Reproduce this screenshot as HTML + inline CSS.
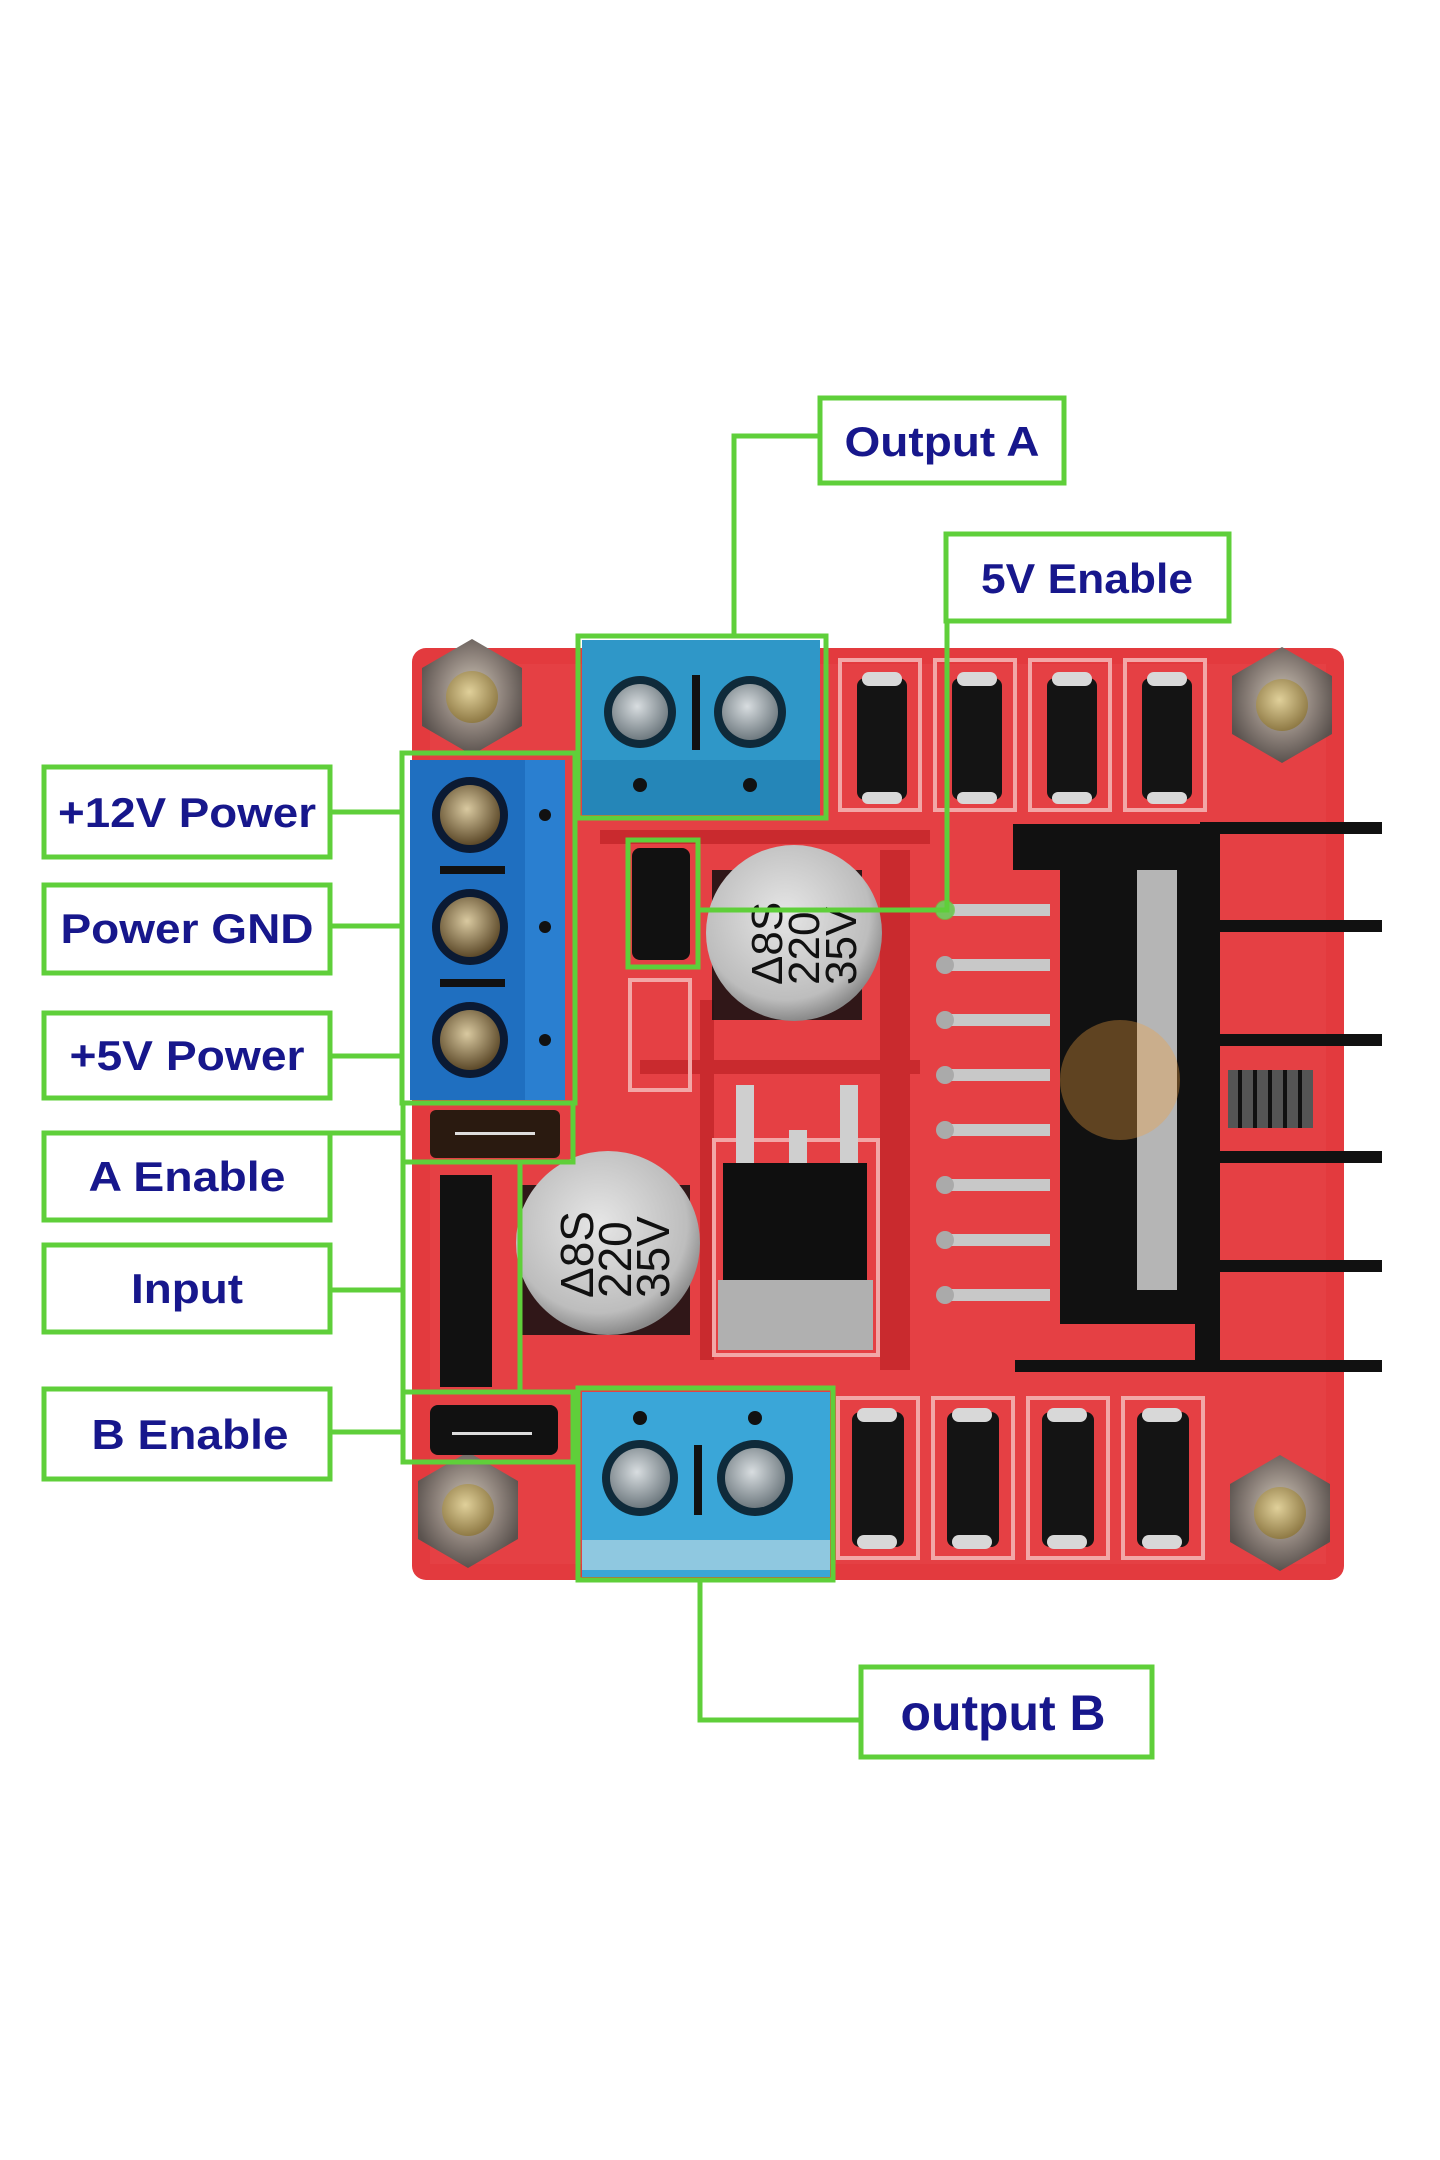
<!DOCTYPE html>
<html><head><meta charset="utf-8"><style>
html,body{margin:0;padding:0;background:#fff;}
svg{display:block}
text{font-family:"Liberation Sans",Arial,sans-serif;font-weight:bold;fill:#17178c;}
</style></head><body>
<svg width="1440" height="2160" viewBox="0 0 1440 2160" xmlns="http://www.w3.org/2000/svg">
<defs>
<radialGradient id="nut" cx="50%" cy="45%" r="55%"><stop offset="0" stop-color="#cfc6b8"/><stop offset="0.6" stop-color="#8a7f78"/><stop offset="1" stop-color="#5a524e"/></radialGradient>
<radialGradient id="gold" cx="45%" cy="40%" r="60%"><stop offset="0" stop-color="#e0d09a"/><stop offset="1" stop-color="#8f7a45"/></radialGradient>
<radialGradient id="cap" cx="45%" cy="40%" r="60%"><stop offset="0" stop-color="#e6e6e6"/><stop offset="0.8" stop-color="#bdbdbd"/><stop offset="1" stop-color="#8a8a8a"/></radialGradient>
<radialGradient id="screw" cx="45%" cy="40%" r="60%"><stop offset="0" stop-color="#d8dde0"/><stop offset="1" stop-color="#6f7a80"/></radialGradient>
<radialGradient id="bscrew" cx="45%" cy="40%" r="60%"><stop offset="0" stop-color="#d9c9a0"/><stop offset="1" stop-color="#5d4a2a"/></radialGradient>
</defs>
<rect width="1440" height="2160" fill="#fff"/>
<rect x="412" y="648" width="932" height="932" rx="14" fill="#e33a3e"/>
<rect x="430" y="664" width="896" height="900" fill="#e8454a" opacity="0.5"/>
<g fill="#c92a2e">
<rect x="600" y="830" width="330" height="14"/>
<rect x="700" y="1000" width="14" height="360"/>
<rect x="880" y="850" width="30" height="520"/>
<rect x="640" y="1060" width="280" height="14"/>
</g>
<g fill="none" stroke="#f2a7a7" stroke-width="4">
<rect x="840" y="660" width="80" height="150"/><rect x="935" y="660" width="80" height="150"/>
<rect x="1030" y="660" width="80" height="150"/><rect x="1125" y="660" width="80" height="150"/>
<rect x="838" y="1398" width="80" height="160"/><rect x="933" y="1398" width="80" height="160"/>
<rect x="1028" y="1398" width="80" height="160"/><rect x="1123" y="1398" width="80" height="160"/>
<rect x="714" y="1140" width="164" height="215"/>
<rect x="630" y="980" width="60" height="110"/>
</g>
<g>
<polygon points="472,639 522,668 522,726 472,755 422,726 422,668" fill="url(#nut)"/>
<circle cx="472" cy="697" r="26" fill="url(#gold)"/>
<polygon points="1282,647 1332,676 1332,734 1282,763 1232,734 1232,676" fill="url(#nut)"/>
<circle cx="1282" cy="705" r="26" fill="url(#gold)"/>
<polygon points="468,1452 518,1481 518,1539 468,1568 418,1539 418,1481" fill="url(#nut)"/>
<circle cx="468" cy="1510" r="26" fill="url(#gold)"/>
<polygon points="1280,1455 1330,1484 1330,1542 1280,1571 1230,1542 1230,1484" fill="url(#nut)"/>
<circle cx="1280" cy="1513" r="26" fill="url(#gold)"/>
</g>
<g fill="#141414">
<rect x="857" y="678" width="50" height="122" rx="8"/><rect x="952" y="678" width="50" height="122" rx="8"/>
<rect x="1047" y="678" width="50" height="122" rx="8"/><rect x="1142" y="678" width="50" height="122" rx="8"/>
<rect x="852" y="1412" width="52" height="135" rx="8"/><rect x="947" y="1412" width="52" height="135" rx="8"/>
<rect x="1042" y="1412" width="52" height="135" rx="8"/><rect x="1137" y="1412" width="52" height="135" rx="8"/>
</g>
<g fill="#d8d8d8">
<rect x="862" y="672" width="40" height="14" rx="7"/><rect x="957" y="672" width="40" height="14" rx="7"/>
<rect x="1052" y="672" width="40" height="14" rx="7"/><rect x="1147" y="672" width="40" height="14" rx="7"/>
<rect x="862" y="792" width="40" height="12" rx="6"/><rect x="957" y="792" width="40" height="12" rx="6"/>
<rect x="1052" y="792" width="40" height="12" rx="6"/><rect x="1147" y="792" width="40" height="12" rx="6"/>
<rect x="857" y="1408" width="40" height="14" rx="7"/><rect x="952" y="1408" width="40" height="14" rx="7"/>
<rect x="1047" y="1408" width="40" height="14" rx="7"/><rect x="1142" y="1408" width="40" height="14" rx="7"/>
<rect x="857" y="1535" width="40" height="14" rx="7"/><rect x="952" y="1535" width="40" height="14" rx="7"/>
<rect x="1047" y="1535" width="40" height="14" rx="7"/><rect x="1142" y="1535" width="40" height="14" rx="7"/>
</g>
<g>
<rect x="940" y="904" width="110" height="12" fill="#c8c8c8"/><circle cx="945" cy="910" r="9" fill="#aaa"/>
<rect x="940" y="959" width="110" height="12" fill="#c8c8c8"/><circle cx="945" cy="965" r="9" fill="#aaa"/>
<rect x="940" y="1014" width="110" height="12" fill="#c8c8c8"/><circle cx="945" cy="1020" r="9" fill="#aaa"/>
<rect x="940" y="1069" width="110" height="12" fill="#c8c8c8"/><circle cx="945" cy="1075" r="9" fill="#aaa"/>
<rect x="940" y="1124" width="110" height="12" fill="#c8c8c8"/><circle cx="945" cy="1130" r="9" fill="#aaa"/>
<rect x="940" y="1179" width="110" height="12" fill="#c8c8c8"/><circle cx="945" cy="1185" r="9" fill="#aaa"/>
<rect x="940" y="1234" width="110" height="12" fill="#c8c8c8"/><circle cx="945" cy="1240" r="9" fill="#aaa"/>
<rect x="940" y="1289" width="110" height="12" fill="#c8c8c8"/><circle cx="945" cy="1295" r="9" fill="#aaa"/>
</g>
<g fill="#111">
<rect x="1013" y="824" width="190" height="46"/>
<rect x="1060" y="824" width="140" height="500"/>
<rect x="1195" y="824" width="25" height="545"/>
<rect x="1200" y="822" width="182" height="12"/>
<rect x="1200" y="920" width="182" height="12"/>
<rect x="1200" y="1034" width="182" height="12"/>
<rect x="1200" y="1151" width="182" height="12"/>
<rect x="1200" y="1260" width="182" height="12"/>
<rect x="1015" y="1360" width="367" height="12"/>
</g>
<rect x="1137" y="870" width="40" height="420" fill="#b5b5b5"/>
<rect x="1228" y="1070" width="85" height="58" fill="#555"/>
<g stroke="#111" stroke-width="4"><line x1="1240" y1="1070" x2="1240" y2="1128"/><line x1="1255" y1="1070" x2="1255" y2="1128"/><line x1="1270" y1="1070" x2="1270" y2="1128"/><line x1="1285" y1="1070" x2="1285" y2="1128"/><line x1="1300" y1="1070" x2="1300" y2="1128"/></g>
<circle cx="1120" cy="1080" r="60" fill="#f0a040" opacity="0.35"/>
<g>
<rect x="736" y="1085" width="18" height="80" fill="#cfcfcf"/><rect x="789" y="1130" width="18" height="35" fill="#cfcfcf"/><rect x="840" y="1085" width="18" height="80" fill="#cfcfcf"/>
<rect x="723" y="1163" width="144" height="130" fill="#0f0f0f"/>
<rect x="718" y="1280" width="155" height="70" fill="#b0b0b0"/>
</g>
<rect x="712" y="870" width="150" height="150" fill="#111" opacity="0.85"/>
<circle cx="794" cy="933" r="88" fill="url(#cap)"/>
<g style="fill:#111;font-weight:normal" font-size="44">
<text transform="translate(782,985) rotate(-90)" style="fill:#111;font-weight:normal">Δ8S</text>
<text transform="translate(819,985) rotate(-90)" style="fill:#111;font-weight:normal">220</text>
<text transform="translate(856,985) rotate(-90)" style="fill:#111;font-weight:normal">35V</text>
</g>
<rect x="520" y="1185" width="170" height="150" fill="#111" opacity="0.85"/>
<circle cx="608" cy="1243" r="92" fill="url(#cap)"/>
<g font-size="46">
<text transform="translate(593,1298) rotate(-90)" style="fill:#111;font-weight:normal">Δ8S</text>
<text transform="translate(631,1298) rotate(-90)" style="fill:#111;font-weight:normal">220</text>
<text transform="translate(669,1298) rotate(-90)" style="fill:#111;font-weight:normal">35V</text>
</g>
<rect x="582" y="640" width="238" height="175" fill="#2f97c8"/>
<rect x="582" y="760" width="238" height="55" fill="#2586b8"/>
<circle cx="640" cy="712" r="36" fill="#0f2a3a"/><circle cx="640" cy="712" r="28" fill="url(#screw)"/>
<circle cx="750" cy="712" r="36" fill="#0f2a3a"/><circle cx="750" cy="712" r="28" fill="url(#screw)"/>
<rect x="692" y="675" width="8" height="75" fill="#111"/>
<circle cx="640" cy="785" r="7" fill="#111"/><circle cx="750" cy="785" r="7" fill="#111"/>
<rect x="410" y="760" width="155" height="340" fill="#1f6fc0"/>
<rect x="525" y="760" width="40" height="340" fill="#2a7fd0"/>
<circle cx="470" cy="815" r="38" fill="#0b1a33"/><circle cx="470" cy="815" r="30" fill="url(#bscrew)"/>
<circle cx="470" cy="927" r="38" fill="#0b1a33"/><circle cx="470" cy="927" r="30" fill="url(#bscrew)"/>
<circle cx="470" cy="1040" r="38" fill="#0b1a33"/><circle cx="470" cy="1040" r="30" fill="url(#bscrew)"/>
<rect x="440" y="866" width="65" height="8" fill="#111"/><rect x="440" y="979" width="65" height="8" fill="#111"/>
<circle cx="545" cy="815" r="6" fill="#111"/><circle cx="545" cy="927" r="6" fill="#111"/><circle cx="545" cy="1040" r="6" fill="#111"/>
<rect x="632" y="848" width="58" height="112" rx="8" fill="#111"/>
<rect x="430" y="1110" width="130" height="48" rx="6" fill="#2a1a10"/>
<rect x="440" y="1175" width="52" height="212" fill="#111"/>
<rect x="430" y="1405" width="128" height="50" rx="8" fill="#111"/>
<rect x="452" y="1432" width="80" height="3" fill="#ddd"/>
<rect x="455" y="1132" width="80" height="3" fill="#ddd"/>
<rect x="582" y="1392" width="248" height="185" fill="#3aa6d8"/>
<rect x="582" y="1540" width="248" height="30" fill="#8fc8e0"/>
<circle cx="640" cy="1478" r="38" fill="#0f2a3a"/><circle cx="640" cy="1478" r="30" fill="url(#screw)"/>
<circle cx="755" cy="1478" r="38" fill="#0f2a3a"/><circle cx="755" cy="1478" r="30" fill="url(#screw)"/>
<rect x="694" y="1445" width="8" height="70" fill="#111"/>
<circle cx="640" cy="1418" r="7" fill="#111"/><circle cx="755" cy="1418" r="7" fill="#111"/>
<g fill="none" stroke="#5fcf3a" stroke-width="5">
<rect x="578" y="636" width="248" height="182"/>
<rect x="402" y="753" width="173" height="350"/>
<rect x="628" y="840" width="70" height="127"/>
<rect x="403" y="1103" width="170" height="59"/>
<rect x="403" y="1162" width="117" height="230"/>
<rect x="403" y="1392" width="170" height="70"/>
<rect x="578" y="1388" width="255" height="192"/>
<polyline points="734,636 734,436 820,436"/>
<polyline points="698,910 947,910 947,621"/>
<polyline points="700,1580 700,1720 861,1720"/>
<line x1="330" y1="812" x2="402" y2="812"/>
<line x1="330" y1="926" x2="402" y2="926"/>
<line x1="330" y1="1056" x2="402" y2="1056"/>
<line x1="330" y1="1133" x2="403" y2="1133"/>
<line x1="330" y1="1290" x2="403" y2="1290"/>
<line x1="330" y1="1432" x2="403" y2="1432"/>
<rect x="820" y="398" width="244" height="85" fill="#fff"/>
<rect x="946" y="534" width="283" height="87" fill="#fff"/>
<rect x="861" y="1667" width="291" height="90" fill="#fff"/>
<rect x="44" y="767" width="286" height="90" fill="#fff"/>
<rect x="44" y="885" width="286" height="88" fill="#fff"/>
<rect x="44" y="1013" width="286" height="85" fill="#fff"/>
<rect x="44" y="1133" width="286" height="87" fill="#fff"/>
<rect x="44" y="1245" width="286" height="87" fill="#fff"/>
<rect x="44" y="1389" width="286" height="90" fill="#fff"/>
</g>
<circle cx="945" cy="910" r="10" fill="#5fcf3a" opacity="0.7"/>
<g font-size="42" text-anchor="middle">
<text x="942" y="456" textLength="195" lengthAdjust="spacingAndGlyphs">Output A</text>
<text x="1087" y="593" textLength="212" lengthAdjust="spacingAndGlyphs">5V Enable</text>
<text x="1003" y="1730" textLength="205" lengthAdjust="spacingAndGlyphs" font-size="50">output B</text>
<text x="187" y="827" textLength="258" lengthAdjust="spacingAndGlyphs">+12V Power</text>
<text x="187" y="943" textLength="253" lengthAdjust="spacingAndGlyphs">Power GND</text>
<text x="187" y="1070" textLength="235" lengthAdjust="spacingAndGlyphs">+5V Power</text>
<text x="187" y="1191" textLength="197" lengthAdjust="spacingAndGlyphs">A Enable</text>
<text x="187" y="1303" textLength="112" lengthAdjust="spacingAndGlyphs">Input</text>
<text x="190" y="1449" textLength="197" lengthAdjust="spacingAndGlyphs">B Enable</text>
</g>
</svg>
</body></html>
